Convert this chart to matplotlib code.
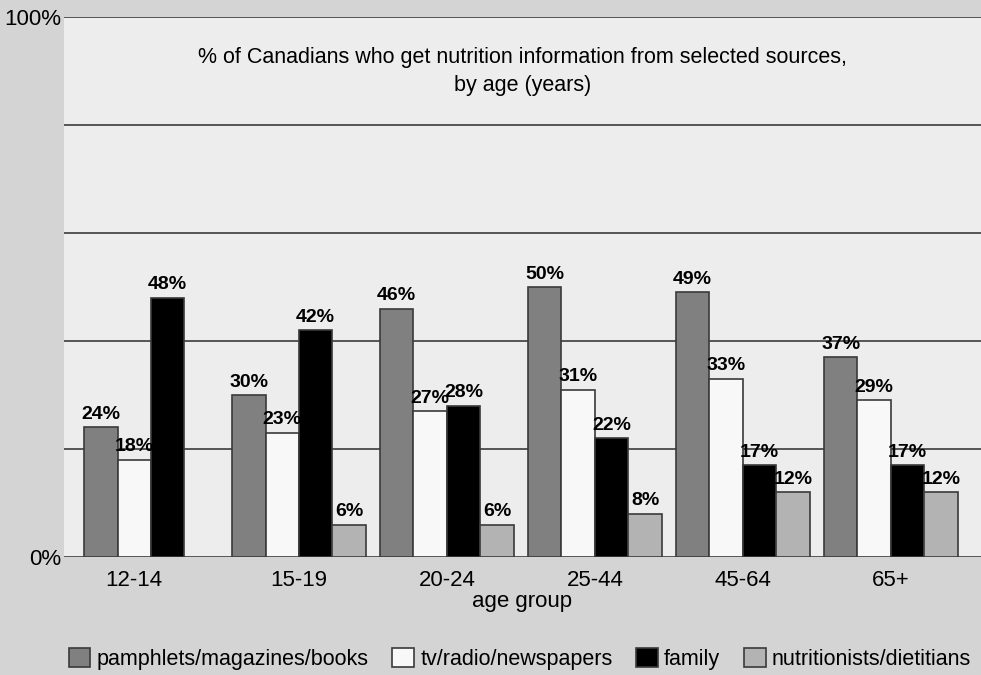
import numpy as np
import matplotlib.pyplot as plt

plt.rcParams['font.family'] = ['Liberation Sans', 'DejaVu Sans']

age_groups = ["12-14", "15-19", "20-24", "25-44", "45-64", "65+"]
pamphlets = [24, 30, 46, 50, 49, 37]
tv_radio = [18, 23, 27, 31, 33, 29]
family = [48, 42, 28, 22, 17, 17]
nutritionists = [np.nan, 6, 6, 8, 12, 12]

series = [
    ("pamphlets/magazines/books", pamphlets, "#808080"),
    ("tv/radio/newspapers", tv_radio, "#f8f8f8"),
    ("family", family, "#000000"),
    ("nutritionists/dietitians", nutritionists, "#b3b3b3"),
]

fig = plt.figure(figsize=(9.81, 6.75), dpi=100, facecolor="#d4d4d4")
ax = fig.add_axes([64 / 981, 118 / 675, 917 / 981, 540 / 675])
ax.set_facecolor("#ededed")

x = np.arange(len(age_groups))
w = 0.226
present = []
for k, (name, vals, col) in enumerate(series):
    pos = x + (k - 1.5) * w
    vals = np.array(vals, dtype=float)
    ok = ~np.isnan(vals)
    present.append(np.where(ok, pos, np.nan))
    ax.bar(pos[ok], vals[ok], width=w, color=col, edgecolor="#3a3a3a",
           linewidth=1.2, label=name, zorder=2)
    for p, v in zip(pos[ok], vals[ok]):
        ax.text(p, v + 0.8, f"{int(v)}%", ha="center", va="bottom",
                fontsize=14, fontweight="bold", zorder=3)

# tick at the middle of the bars that exist in each group
tick_pos = np.nanmean(np.array(present), axis=0)

for g in [0, 20, 40, 60, 80, 100]:
    ax.axhline(g, color="#555555", linewidth=1.4, zorder=1)

ax.set_xlim(-0.588, 5.61)
ax.set_ylim(0, 100)
ax.set_yticks([0, 100])
ax.set_yticklabels(["0%", "100%"], fontsize=16)
ax.set_xticks(tick_pos)
ax.set_xticklabels(age_groups, fontsize=16)
ax.tick_params(axis="x", length=0, pad=9)
ax.tick_params(axis="y", length=0, pad=2)
for s in ax.spines.values():
    s.set_visible(False)

ax.set_xlabel("age group", fontsize=16, labelpad=0)
ax.text(0.5, 0.945, "% of Canadians who get nutrition information from selected sources,\nby age (years)",
        transform=ax.transAxes, ha="center", va="top", fontsize=15.5, linespacing=1.45)

fig.legend(loc="center", bbox_to_anchor=(0.53, 1 - 659 / 675), ncol=4, frameon=False,
           fontsize=15.5, handlelength=1.0, handleheight=1.0, handletextpad=0.3,
           columnspacing=1.1)

fig.savefig("out.png", dpi=100, facecolor=fig.get_facecolor())
